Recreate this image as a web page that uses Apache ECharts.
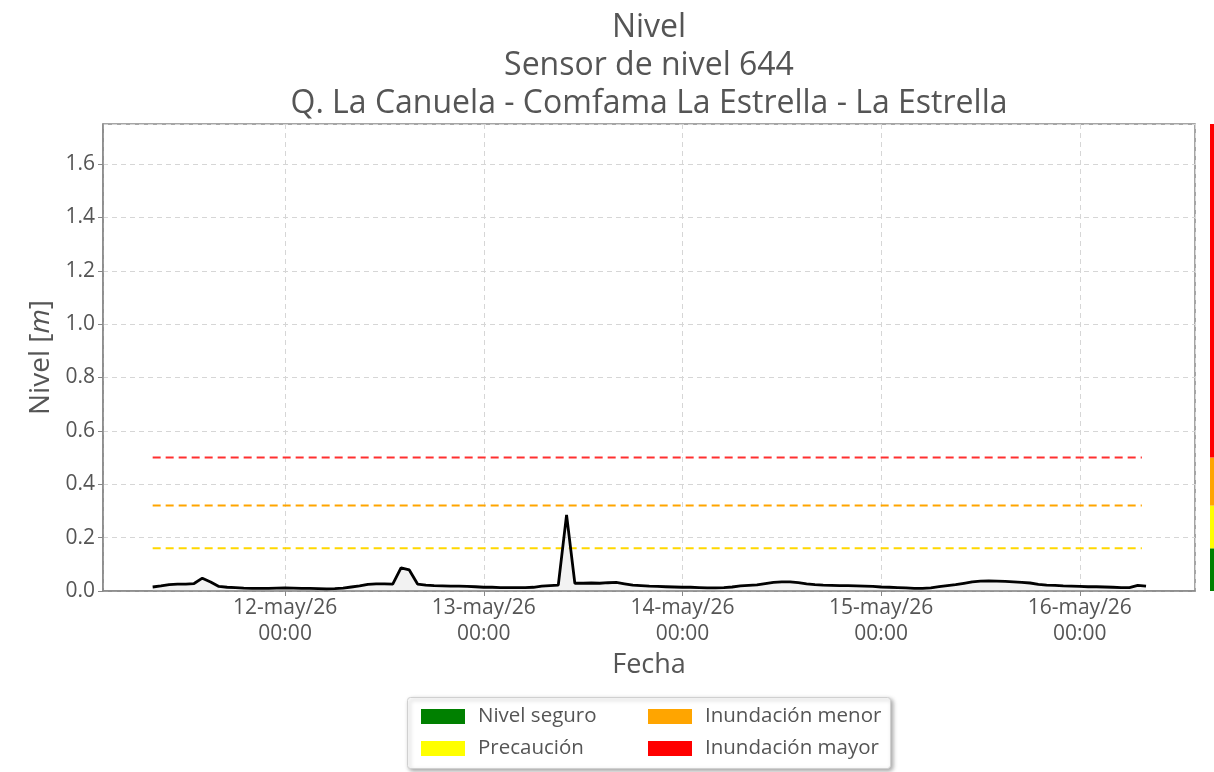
<!DOCTYPE html>
<html>
<head>
<meta charset="utf-8">
<script src="https://cdn.jsdelivr.net/npm/echarts@6/dist/echarts.min.js"></script>
<style>
html,body{margin:0;padding:0;background:#fff;}
#chart{width:1214px;height:772px;}
</style>
</head>
<body>
<div id="chart"></div>
<script>
// ---- Data ----
var titleLines = ['Nivel', 'Sensor de nivel 644', 'Q. La Canuela - Comfama La Estrella - La Estrella'];
var startTime = Date.UTC(2026, 4, 11, 8, 0); // first reading, hourly
var stepMs = 3600000;
var nivel = [
  0.015,0.019,0.024,0.026,0.026,0.028,0.048,0.034,0.017,0.014,
  0.013,0.011,0.010,0.010,0.010,0.011,0.012,0.011,0.010,0.010,
  0.009,0.008,0.009,0.011,0.015,0.019,0.025,0.027,0.027,0.026,
  0.087,0.079,0.026,0.022,0.020,0.019,0.018,0.018,0.017,0.016,
  0.014,0.014,0.013,0.013,0.013,0.013,0.014,0.018,0.020,0.022,
  0.285,0.029,0.029,0.030,0.029,0.031,0.032,0.027,0.022,0.020,
  0.018,0.017,0.016,0.015,0.014,0.014,0.013,0.012,0.012,0.013,
  0.015,0.019,0.021,0.023,0.028,0.032,0.034,0.034,0.031,0.027,
  0.024,0.022,0.021,0.020,0.020,0.019,0.018,0.017,0.015,0.014,
  0.013,0.012,0.010,0.010,0.012,0.016,0.020,0.024,0.029,0.034,
  0.037,0.038,0.037,0.036,0.034,0.032,0.030,0.025,0.022,0.021,
  0.019,0.018,0.017,0.016,0.016,0.015,0.014,0.013,0.013,0.021,
  0.018
];
var levelNames = ['Nivel seguro', 'Precaución', 'Inundación menor', 'Inundación mayor'];
var levelColors = ['#008000', '#ffff00', '#ffa500', '#ff0000'];
var levelTops = [0.16, 0.32, 0.50, 1.75];       // upper bound of each band
var thresholdValues = [0.16, 0.32, 0.50];      // dashed lines
var thresholdColors = ['#ffd700', '#ffa500', '#ff3030'];
var axisMin = Date.UTC(2026, 4, 11, 2, 0);
var axisMax = Date.UTC(2026, 4, 16, 13, 55);
var monthNames = ['ene','feb','mar','abr','may','jun','jul','ago','sep','oct','nov','dic'];

// ---- Build ----
var lineData = nivel.map(function (v, i) { return [startTime + i * stepMs, v]; });
var tFirst = lineData[0][0], tLast = lineData[lineData.length - 1][0] - stepMs / 2;
var bandValues = levelTops.map(function (t, i) { return +(t - (i ? levelTops[i - 1] : 0)).toFixed(3); });

var FONT = 'Open Sans';
var TXT = '#555';

var series = [{
  name: 'Nivel', type: 'line', xAxisIndex: 0, yAxisIndex: 0,
  data: lineData, showSymbol: false, symbol: 'none',
  lineStyle: {color: '#000', width: 2.8},
  itemStyle: {color: '#000'},
  areaStyle: {color: 'rgba(200,200,200,0.35)'},
  z: 5
}];
thresholdValues.forEach(function (v, i) {
  series.push({
    name: 'umbral' + i, type: 'line', xAxisIndex: 0, yAxisIndex: 0,
    data: [[tFirst, v], [tLast, v]], showSymbol: false, symbol: 'none',
    lineStyle: {color: thresholdColors[i], width: 2, type: [8, 5]},
    z: 4, silent: true
  });
});
levelNames.forEach(function (n, i) {
  series.push({
    name: n, type: 'bar', xAxisIndex: 1, yAxisIndex: 1, stack: 'bands',
    data: [bandValues[i]], barWidth: '100%',
    itemStyle: {color: levelColors[i]}, silent: true
  });
});

var legendCommon = {
  orient: 'vertical', itemWidth: 44, itemHeight: 15, itemGap: 11,
  icon: 'rect', selectedMode: false,
  textStyle: {fontFamily: FONT, fontSize: 20.5, color: TXT, padding: [0, 0, 0, 8]}
};

var option = {
  useUTC: true,
  animation: false,
  backgroundColor: '#fff',
  title: {
    text: titleLines.join('\n'), left: 644, textAlign: 'center', top: 4,
    textStyle: {fontFamily: FONT, fontSize: 32, fontWeight: 'normal', color: TXT, lineHeight: 38}
  },
  grid: [
    {left: 103, right: 19, top: 124, bottom: 181, show: true, borderColor: '#888', borderWidth: 1.5, containLabel: false},
    {left: 1210, width: 4, top: 124, bottom: 181, containLabel: false}
  ],
  legend: [
    Object.assign({left: 416, top: 701, data: [levelNames[0], levelNames[1]]}, legendCommon),
    Object.assign({left: 643, top: 701, data: [levelNames[2], levelNames[3]]}, legendCommon)
  ],
  xAxis: [{
    type: 'time', gridIndex: 0, min: axisMin, max: axisMax,
    minInterval: 86400000, maxInterval: 86400000,
    name: 'Fecha', nameLocation: 'middle', nameGap: 60,
    nameTextStyle: {fontFamily: FONT, fontSize: 27, color: TXT},
    axisLine: {show: true, lineStyle: {color: '#888', width: 1.5}},
    axisTick: {show: true, length: 5, lineStyle: {color: '#888'}},
    splitLine: {show: true, lineStyle: {color: '#d6d6d6', type: [5, 4], width: 1}},
    axisLabel: {
      showMinLabel: false, showMaxLabel: false,
      fontFamily: FONT, fontSize: 21, color: TXT, lineHeight: 26, margin: 4,
      formatter: function (val) {
        var d = new Date(val);
        var dd = ('0' + d.getUTCDate()).slice(-2);
        var hh = ('0' + d.getUTCHours()).slice(-2);
        var mm = ('0' + d.getUTCMinutes()).slice(-2);
        return dd + '-' + monthNames[d.getUTCMonth()] + '/' + String(d.getUTCFullYear()).slice(-2) + '\n' + hh + ':' + mm;
      }
    }
  }, {
    type: 'category', gridIndex: 1, data: ['n'], show: false
  }],
  yAxis: [{
    type: 'value', gridIndex: 0, min: 0, max: 1.75, interval: 0.2,
    name: '{n|Nivel }{b|[}{i|m}{b|]}', nameLocation: 'middle', nameGap: 44, nameRotate: 90,
    nameTextStyle: {
      fontFamily: FONT, fontSize: 28, color: TXT,
      rich: {
        n: {fontFamily: FONT, fontSize: 28, color: TXT},
        b: {fontFamily: FONT, fontSize: 28, color: TXT},
        i: {fontFamily: FONT, fontSize: 28, color: TXT, fontStyle: 'italic'}
      }
    },
    axisLine: {show: true, lineStyle: {color: '#888', width: 1.5}},
    axisTick: {show: true, length: 5, lineStyle: {color: '#888'}},
    splitLine: {show: true, lineStyle: {color: '#d6d6d6', type: [5, 4], width: 1}},
    axisLabel: {
      showMaxLabel: false, fontFamily: FONT, fontSize: 21, color: TXT, margin: 8,
      formatter: function (v) { return v.toFixed(1); }
    }
  }, {
    type: 'value', gridIndex: 1, min: 0, max: 1.75, show: false
  }],
  graphic: [{
    type: 'rect', z: 0, left: 407, top: 697,
    shape: {width: 483, height: 71, r: 3},
    style: {fill: '#fff', stroke: '#d0d0d0', lineWidth: 1, shadowBlur: 4, shadowOffsetX: 2, shadowOffsetY: 2, shadowColor: 'rgba(0,0,0,0.35)'}
  }],
  series: series
};

var chart = echarts.init(document.getElementById('chart'), null, {renderer: 'canvas'});
chart.setOption(option);
</script>
</body>
</html>
